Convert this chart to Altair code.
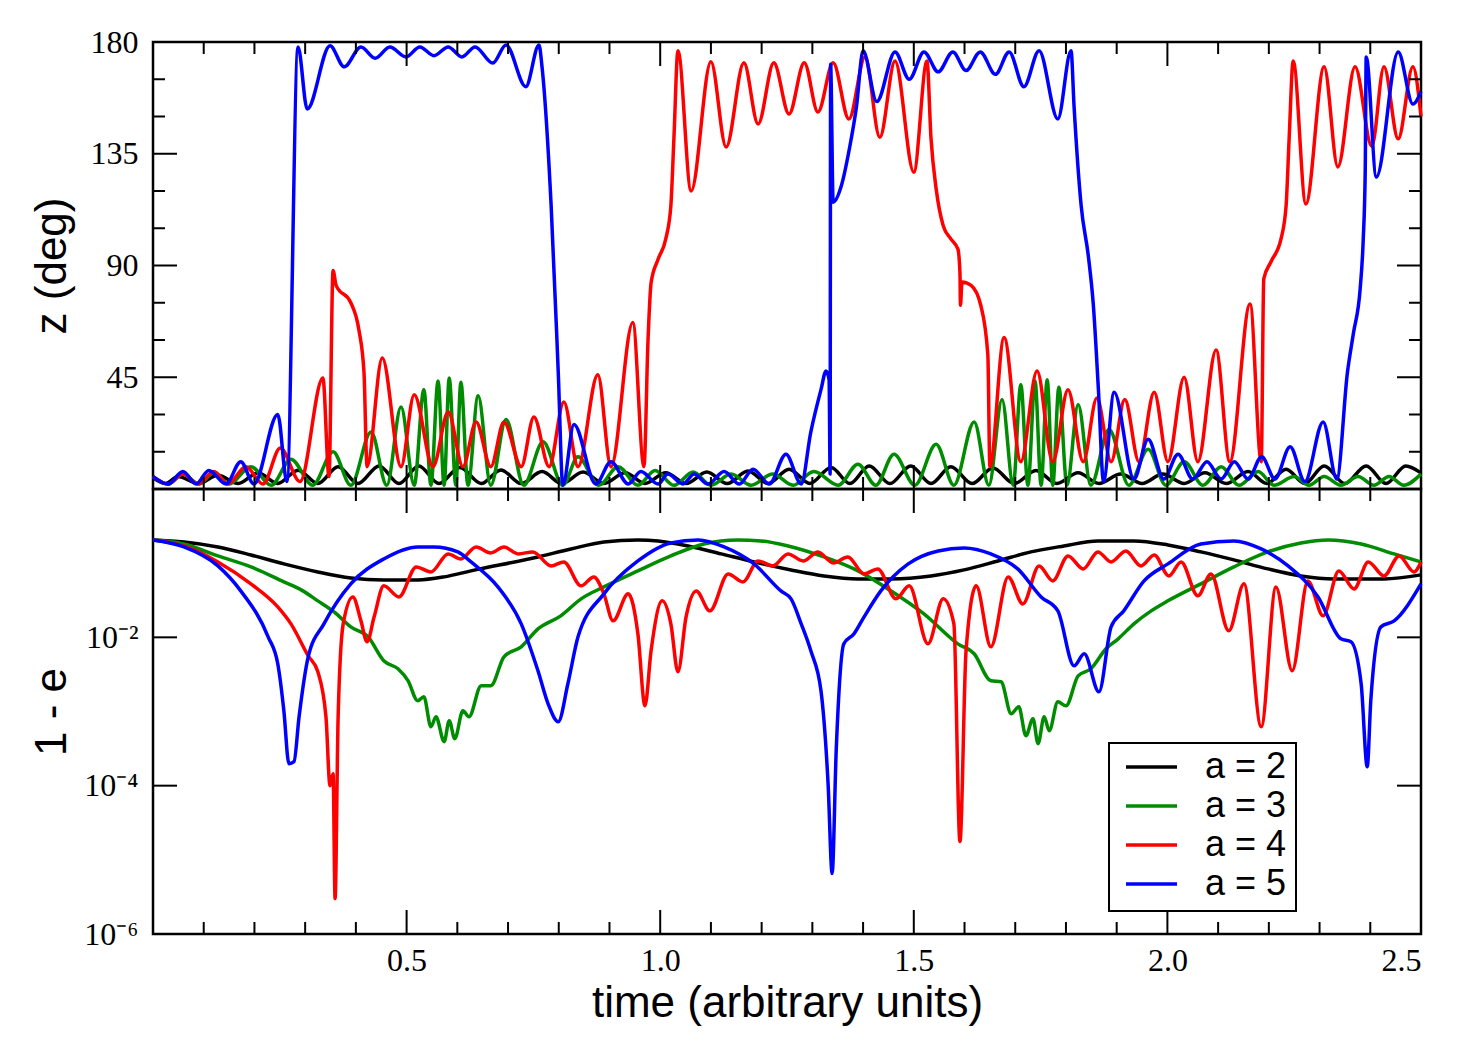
import altair as alt
import pandas as pd

SERIES = ["a = 2", "a = 3", "a = 4", "a = 5"]
COLORS = ["#000000", "#008c00", "#ff0000", "#0000ff"]

# ---- upper panel: inclination z (deg) versus time ----
a2_top_t = [0.000, 0.025, 0.049, 0.089, 0.128, 0.168, 0.207, 0.246, 0.286, 0.325, 0.365, 0.404, 0.446, 0.485,
            0.524, 0.564, 0.605, 0.647, 0.686, 0.726, 0.767, 0.806, 0.848, 0.889, 0.931, 0.970, 1.011, 1.051,
            1.092, 1.132, 1.173, 1.213, 1.254, 1.295, 1.337, 1.374, 1.412, 1.453, 1.494, 1.534, 1.573, 1.615,
            1.656, 1.698, 1.741, 1.782, 1.824, 1.865, 1.908, 1.950, 1.991, 2.033, 2.074, 2.116, 2.159, 2.196,
            2.234, 2.271, 2.309, 2.350, 2.392, 2.431, 2.470, 2.500]
a2_top_z = [4.5, 2.2, 5.0, 2.2, 5.5, 2.2, 6.5, 2.2, 7.6, 2.2, 9.0, 2.2, 9.3, 2.2,
            9.3, 2.2, 8.7, 2.2, 7.7, 2.2, 7.0, 2.2, 6.8, 2.2, 6.5, 2.2, 6.5, 2.2,
            6.8, 2.2, 7.2, 2.2, 8.0, 2.2, 8.7, 2.2, 9.3, 2.2, 9.3, 2.2, 9.0, 2.2,
            8.5, 2.2, 7.5, 2.2, 6.5, 2.2, 6.0, 2.2, 6.0, 2.2, 6.5, 2.2, 7.0, 2.2,
            8.0, 2.2, 9.3, 2.2, 9.3, 2.2, 9.3, 6.5]

a3_top_t = [0.000, 0.030, 0.059, 0.091, 0.120, 0.150, 0.193, 0.233, 0.272, 0.315, 0.355, 0.390, 0.430, 0.461,
            0.489, 0.515, 0.534, 0.548, 0.562, 0.574, 0.584, 0.597, 0.607, 0.621, 0.641, 0.666, 0.696, 0.731,
            0.769, 0.808, 0.838, 0.879, 0.917, 0.956, 0.990, 1.027, 1.065, 1.100, 1.140, 1.179, 1.222, 1.262,
            1.303, 1.351, 1.390, 1.425, 1.461, 1.502, 1.544, 1.579, 1.619, 1.648, 1.674, 1.696, 1.711, 1.725,
            1.739, 1.751, 1.763, 1.774, 1.786, 1.802, 1.824, 1.849, 1.885, 1.924, 1.962, 1.997, 2.033, 2.070,
            2.106, 2.141, 2.179, 2.210, 2.250, 2.279, 2.309, 2.342, 2.376, 2.407, 2.437, 2.466, 2.500]
a3_top_z = [5, 2, 6, 2, 6.5, 2, 9, 1.5, 12, 1.5, 15, 1.5, 23, 1.5,
            33, 1.5, 40, 1.5, 43.5, 1.5, 44.7, 1.5, 43, 1.5, 37.5, 1.5, 28, 1.5,
            19, 1.5, 13, 1.5, 9, 1.5, 7.5, 1.5, 6.8, 1.5, 6, 1.5, 6, 1.5,
            7, 1.5, 10, 1.5, 14, 1.5, 18, 1.5, 27, 1.5, 36, 1.5, 42, 1.5,
            43.5, 1.5, 44, 1.5, 41, 1.5, 34, 1.5, 24, 1.5, 16, 1.5, 11, 1.5,
            9, 1.5, 7, 1.5, 5, 1.5, 5, 1.5, 5, 1.5, 5, 1.5, 6]

a4_top_t = [0.000, 0.030, 0.059, 0.089, 0.120, 0.148, 0.183, 0.217, 0.251, 0.290, 0.335, 0.347, 0.355, 0.361,
            0.390, 0.406, 0.416, 0.422, 0.452, 0.489, 0.515, 0.552, 0.582, 0.611, 0.637, 0.666, 0.692, 0.726,
            0.751, 0.781, 0.810, 0.838, 0.877, 0.903, 0.946, 0.968, 0.976, 0.982, 0.996, 1.011, 1.021, 1.027,
            1.035, 1.061, 1.100, 1.130, 1.165, 1.193, 1.224, 1.254, 1.284, 1.311, 1.341, 1.372, 1.404, 1.433,
            1.463, 1.500, 1.526, 1.534, 1.544, 1.558, 1.573, 1.587, 1.591, 1.592, 1.595, 1.613, 1.632, 1.646,
            1.650, 1.678, 1.711, 1.743, 1.774, 1.804, 1.834, 1.861, 1.889, 1.916, 1.944, 1.974, 2.001, 2.033,
            2.060, 2.096, 2.123, 2.163, 2.185, 2.190, 2.204, 2.224, 2.234, 2.240, 2.248, 2.273, 2.309, 2.336,
            2.370, 2.403, 2.427, 2.455, 2.484, 2.500]
a4_top_z = [5, 2, 6, 2, 7, 2, 9, 2, 16.5, 3, 44.7, 5, 88, 82,
            75, 64, 47, 9, 52.8, 9, 38, 9, 31, 9, 27, 9, 27, 9,
            29, 9, 35, 9, 46, 9, 67, 9, 60, 83, 92.6, 100.7, 114, 141,
            176.5, 120, 172, 137.7, 171.6, 147, 171.6, 151, 171.6, 151.8, 171.6, 149, 174, 141.6,
            172.3, 127.6, 172.3, 141, 121, 106, 100.7, 96.6, 87, 74, 83.4, 82, 74, 54,
            9, 61, 11, 47.5, 11, 40, 11, 36.6, 11, 36, 11, 39, 11, 45,
            11, 56, 11, 74.5, 11, 84.6, 91.4, 100.7, 114, 141, 172.3, 114.8, 170, 129.7,
            170, 138, 170, 141, 170, 150]

a5_top_t = [0.000, 0.030, 0.059, 0.085, 0.110, 0.144, 0.173, 0.199, 0.246, 0.264, 0.286, 0.304, 0.349, 0.377,
            0.410, 0.438, 0.467, 0.499, 0.526, 0.554, 0.582, 0.609, 0.635, 0.670, 0.696, 0.735, 0.761, 0.767,
            0.785, 0.799, 0.808, 0.830, 0.873, 0.903, 0.937, 0.962, 0.996, 1.015, 1.045, 1.067, 1.094, 1.126,
            1.156, 1.183, 1.215, 1.248, 1.278, 1.297, 1.317, 1.327, 1.333, 1.335, 1.336, 1.341, 1.357, 1.373,
            1.387, 1.400, 1.427, 1.463, 1.491, 1.520, 1.548, 1.577, 1.603, 1.631, 1.661, 1.688, 1.717, 1.747,
            1.784, 1.810, 1.816, 1.830, 1.844, 1.854, 1.864, 1.874, 1.895, 1.934, 1.962, 1.993, 2.021, 2.050,
            2.078, 2.106, 2.132, 2.159, 2.186, 2.212, 2.242, 2.271, 2.307, 2.334, 2.355, 2.367, 2.380, 2.386,
            2.390, 2.392, 2.412, 2.455, 2.484, 2.500]
a5_top_z = [5, 2, 7, 2, 7.5, 2, 11, 2, 30, 3, 178, 153, 178.5, 170,
            178, 173.5, 178, 174, 178, 174.5, 178, 174, 178, 171.5, 178.8, 162, 178.8, 170,
            114, 47, 1.5, 26, 2, 11, 2, 7, 2, 6, 2, 6, 2, 7,
            2, 8, 2, 14, 2, 23, 40, 47.5, 44, 6, 171, 115.5, 122, 137,
            154, 176.5, 156, 176, 165, 176, 168, 176, 168.5, 176, 167, 176, 162, 176.5,
            149, 176.5, 154, 114, 94, 74, 40, 3, 39, 4, 20, 4, 14, 4,
            11, 4, 11, 4, 13, 4, 17, 3, 27, 4, 47, 63, 80.5, 100,
            127.6, 174, 125.6, 176, 155, 160]

# ---- lower panel: log10(1 - e) versus time ----
a2_bot_t = [0.000, 0.061, 0.128, 0.193, 0.258, 0.325, 0.390, 0.455, 0.522, 0.574, 0.627, 0.759, 0.824, 0.889,
            0.956, 0.996, 1.055, 1.120, 1.185, 1.258, 1.323, 1.390, 1.455, 1.534, 1.599, 1.666, 1.731, 1.796,
            1.863, 1.934, 2.001, 2.066, 2.131, 2.198, 2.263, 2.329, 2.427, 2.500]
a2_bot_lg = [-0.687, -0.714, -0.781, -0.889, -1.010, -1.118, -1.199, -1.226, -1.226, -1.185, -1.104, -0.916,
             -0.808, -0.714, -0.687, -0.700, -0.768, -0.875, -0.983, -1.091, -1.172, -1.212, -1.212, -1.172,
             -1.091, -0.970, -0.848, -0.768, -0.700, -0.700, -0.754, -0.848, -0.956, -1.077, -1.172, -1.212,
             -1.212, -1.158]

a3_bot_t = [0.000, 0.061, 0.128, 0.193, 0.258, 0.292, 0.325, 0.357, 0.390, 0.424, 0.455, 0.483, 0.503, 0.522,
            0.534, 0.548, 0.558, 0.574, 0.584, 0.595, 0.611, 0.623, 0.647, 0.666, 0.692, 0.726, 0.759, 0.804,
            0.844, 0.889, 0.956, 1.021, 1.086, 1.153, 1.199, 1.252, 1.323, 1.390, 1.455, 1.520, 1.587, 1.619,
            1.652, 1.672, 1.692, 1.707, 1.721, 1.735, 1.745, 1.757, 1.767, 1.784, 1.800, 1.824, 1.849, 1.879,
            1.903, 1.934, 1.968, 2.001, 2.066, 2.131, 2.198, 2.263, 2.317, 2.382, 2.447, 2.500]
a3_bot_lg = [-0.687, -0.741, -0.902, -1.050, -1.253, -1.360, -1.508, -1.657, -1.859, -1.993, -2.316, -2.424,
             -2.586, -2.855, -2.801, -3.205, -3.071, -3.407, -3.125, -3.367, -2.990, -3.071, -2.653, -2.653,
             -2.263, -2.128, -1.886, -1.710, -1.481, -1.320, -1.104, -0.902, -0.741, -0.687, -0.700, -0.768,
             -0.916, -1.104, -1.374, -1.684, -2.088, -2.222, -2.586, -2.599, -3.030, -2.936, -3.327, -3.098,
             -3.434, -3.071, -3.259, -2.869, -2.923, -2.519, -2.424, -2.155, -2.020, -1.818, -1.643, -1.508,
             -1.279, -1.050, -0.848, -0.727, -0.687, -0.741, -0.875, -0.983]

a4_bot_t = [0.000, 0.061, 0.128, 0.193, 0.246, 0.272, 0.306, 0.325, 0.341, 0.349, 0.355, 0.359, 0.365, 0.375,
            0.394, 0.410, 0.422, 0.436, 0.455, 0.485, 0.519, 0.548, 0.582, 0.607, 0.637, 0.666, 0.692, 0.720,
            0.749, 0.785, 0.810, 0.844, 0.869, 0.889, 0.907, 0.937, 0.956, 0.970, 0.982, 1.004, 1.021, 1.035,
            1.051, 1.071, 1.098, 1.134, 1.163, 1.193, 1.222, 1.252, 1.282, 1.311, 1.341, 1.370, 1.402, 1.429,
            1.465, 1.491, 1.528, 1.558, 1.579, 1.591, 1.603, 1.623, 1.652, 1.686, 1.715, 1.747, 1.774, 1.804,
            1.834, 1.863, 1.889, 1.918, 1.948, 1.974, 2.003, 2.027, 2.060, 2.086, 2.121, 2.151, 2.185, 2.214,
            2.246, 2.277, 2.307, 2.338, 2.368, 2.396, 2.427, 2.457, 2.486, 2.500]
a4_bot_lg = [-0.687, -0.768, -0.983, -1.279, -1.589, -1.818, -2.249, -2.465, -3.071, -4.000, -3.838, -5.522,
             -3.071, -1.818, -1.455, -1.778, -2.061, -1.724, -1.306, -1.455, -1.050, -1.118, -0.875, -0.943,
             -0.781, -0.862, -0.781, -0.875, -0.848, -1.037, -0.983, -1.306, -1.185, -1.414, -1.778, -1.414,
             -1.953, -2.923, -2.182, -1.508, -1.818, -2.465, -1.724, -1.374, -1.643, -1.145, -1.253, -0.970,
             -1.037, -0.875, -0.970, -0.848, -0.997, -0.916, -1.145, -1.077, -1.481, -1.306, -2.088, -1.481,
             -1.818, -4.754, -2.182, -1.306, -2.128, -1.185, -1.549, -1.037, -1.239, -0.902, -1.077, -0.848,
             -0.983, -0.835, -1.037, -0.889, -1.172, -0.983, -1.441, -1.145, -1.912, -1.279, -3.205, -1.320,
             -2.451, -1.239, -1.710, -1.104, -1.347, -0.983, -1.172, -0.902, -1.118, -0.983]

a5_bot_t = [0.000, 0.061, 0.128, 0.173, 0.227, 0.246, 0.258, 0.268, 0.278, 0.288, 0.306, 0.337, 0.390, 0.455,
            0.522, 0.554, 0.601, 0.627, 0.680, 0.726, 0.759, 0.779, 0.799, 0.818, 0.838, 0.889, 0.956, 1.021,
            1.075, 1.126, 1.185, 1.238, 1.258, 1.278, 1.297, 1.317, 1.331, 1.339, 1.347, 1.362, 1.382, 1.402,
            1.435, 1.489, 1.548, 1.599, 1.652, 1.705, 1.751, 1.784, 1.816, 1.836, 1.865, 1.889, 1.914, 1.954,
            2.001, 2.066, 2.131, 2.185, 2.238, 2.297, 2.342, 2.362, 2.382, 2.394, 2.401, 2.421, 2.447, 2.500]
a5_bot_lg = [-0.687, -0.781, -1.037, -1.374, -1.993, -2.357, -2.990, -3.704, -3.677, -3.071, -2.263, -1.818,
             -1.279, -0.943, -0.781, -0.781, -0.848, -0.983, -1.320, -1.818, -2.451, -2.896, -3.138, -2.626,
             -1.993, -1.414, -0.970, -0.727, -0.687, -0.781, -1.010, -1.374, -1.481, -1.818, -2.182, -2.721,
             -3.973, -5.185, -3.529, -2.088, -1.953, -1.724, -1.374, -1.010, -0.835, -0.795, -0.875, -1.077,
             -1.455, -1.643, -2.384, -2.222, -2.734, -1.859, -1.643, -1.239, -1.010, -0.741, -0.700, -0.808,
             -1.037, -1.455, -2.020, -2.061, -2.626, -3.744, -2.855, -1.859, -1.778, -1.279]

# tick positions
x_major = [0.5, 1.0, 1.5, 2.0]
x_minor = [0.1, 0.2, 0.3, 0.4, 0.6, 0.7, 0.8, 0.9, 1.1, 1.2, 1.3, 1.4, 1.6, 1.7, 1.8, 1.9, 2.1, 2.2, 2.3, 2.4]
x_labels = [0.5, 1.0, 1.5, 2.0, 2.5]
z_major = [45, 90, 135]
z_minor = [15, 30, 60, 75, 105, 120, 150, 165]
z_labels = [45, 90, 135, 180]
lg_major = [-2, -4]
lg_labels = [-2, -4, -6]

W = 1268
H_TOP = 447
H_BOT = 445
MAJ, MIN = 24, 12
SERIF = "Liberation Serif"
SANS = "Liberation Sans"
LABEL_SIZE = 32
TITLE_SIZE = 44
LINE_W = 3.5


def frame(cols, label):
    rows = []
    for name, t, v in cols:
        for i, (a, b) in enumerate(zip(t, v)):
            rows.append({"series": name, "i": i, "t": a, label: b})
    return pd.DataFrame(rows)


top_df = frame([("a = 2", a2_top_t, a2_top_z), ("a = 3", a3_top_t, a3_top_z),
                ("a = 4", a4_top_t, a4_top_z), ("a = 5", a5_top_t, a5_top_z)], "z")
bot_df = frame([("a = 2", a2_bot_t, a2_bot_lg), ("a = 3", a3_bot_t, a3_bot_lg),
                ("a = 4", a4_bot_t, a4_bot_lg), ("a = 5", a5_bot_t, a5_bot_lg)], "lg")

x_scale = alt.Scale(domain=[0, 2.5], nice=False, zero=False)
z_scale = alt.Scale(domain=[0, 180], nice=False, zero=False)
lg_scale = alt.Scale(domain=[-6, 0], nice=False, zero=False)

title_style = dict(titleFont=SANS, titleFontSize=TITLE_SIZE, titleFontWeight="normal", titleColor="black")
label_style = dict(labelFont=SERIF, labelFontSize=LABEL_SIZE, labelColor="black")

x_axis_bot = alt.Axis(
    title="time (arbitrary units)", values=x_labels, format=".1f", ticks=False, domain=False, grid=False,
    labelPadding=11, titleY=82, titleBaseline="alphabetic", **label_style, **title_style)
z_axis = alt.Axis(
    title="z (deg)", values=z_labels, ticks=False, domain=False, grid=False, labelPadding=15,
    titleX=-101, titleBaseline="middle", **label_style, **title_style)
sup = "{'-2': '\u207b\u00b2', '-4': '\u207b\u2074', '-6': '\u207b\u2076'}"
lg_axis = alt.Axis(
    title="1 - e", values=lg_labels, ticks=False, domain=False, grid=False, labelPadding=15,
    labelExpr="'10' + " + sup + "[datum.value + '']",
    titleX=-101, titleBaseline="middle", **label_style, **title_style)


def x_ticks(values, length, height, axis):
    """Inward ticks along the top and bottom edges of a panel."""
    d = pd.DataFrame({"t": values})
    base = alt.Chart(d).mark_rule(color="black", strokeWidth=2)
    x = alt.X("t:Q", scale=x_scale, axis=axis)
    return [base.encode(x=x, y=alt.value(0), y2=alt.value(length)),
            base.encode(x=x, y=alt.value(height), y2=alt.value(height - length))]


def y_ticks(values, length, field, scale, axis):
    """Inward ticks along the left and right edges of a panel."""
    d = pd.DataFrame({field: values})
    base = alt.Chart(d).mark_rule(color="black", strokeWidth=2)
    y = alt.Y(f"{field}:Q", scale=scale, axis=axis)
    return [base.encode(y=y, x=alt.value(0), x2=alt.value(length)),
            base.encode(y=y, x=alt.value(W), x2=alt.value(W - length))]


color_top = alt.Color("series:N", scale=alt.Scale(domain=SERIES, range=COLORS), legend=None)
color_bot = alt.Color(
    "series:N",
    scale=alt.Scale(domain=SERIES, range=COLORS),
    legend=alt.Legend(
        title=None, orient="none", legendX=956, legendY=254,
        symbolType="stroke", symbolSize=2600, symbolStrokeWidth=3.5, symbolOffset=6,
        labelFont=SANS, labelFontSize=36, labelColor="black", labelOffset=26,
        padding=9, rowPadding=3, clipHeight=30,
        strokeColor="black", fillColor="white", cornerRadius=0,
    ),
)

# upper panel
top_lines = alt.Chart(top_df).mark_line(strokeWidth=LINE_W, interpolate="monotone").encode(
    x=alt.X("t:Q", scale=x_scale, axis=None),
    y=alt.Y("z:Q", scale=z_scale, axis=z_axis),
    color=color_top,
    order="i:Q",
)
top = alt.layer(
    top_lines,
    *x_ticks(x_major, MAJ, H_TOP, None),
    *x_ticks(x_minor, MIN, H_TOP, None),
    *y_ticks(z_major, MAJ, "z", z_scale, z_axis),
    *y_ticks(z_minor, MIN, "z", z_scale, z_axis),
).properties(width=W, height=H_TOP)

# lower panel
bot_lines = alt.Chart(bot_df).mark_line(strokeWidth=LINE_W, interpolate="monotone").encode(
    x=alt.X("t:Q", scale=x_scale, axis=x_axis_bot),
    y=alt.Y("lg:Q", scale=lg_scale, axis=lg_axis),
    color=color_bot,
    order="i:Q",
)
bottom = alt.layer(
    bot_lines,
    *x_ticks(x_major, MAJ, H_BOT, x_axis_bot),
    *x_ticks(x_minor, MIN, H_BOT, x_axis_bot),
    *y_ticks(lg_major, MAJ, "lg", lg_scale, lg_axis),
).properties(width=W, height=H_BOT)

chart = alt.vconcat(top, bottom, spacing=0, bounds="flush").resolve_scale(color="independent").properties(
    padding={"left": 28, "top": 24, "right": 20, "bottom": 10},
    background="white",
).configure_view(stroke="black", strokeWidth=2.5).configure_legend(strokeWidth=2)

chart.save("out.html", embed_options={"renderer": "svg", "actions": False})
